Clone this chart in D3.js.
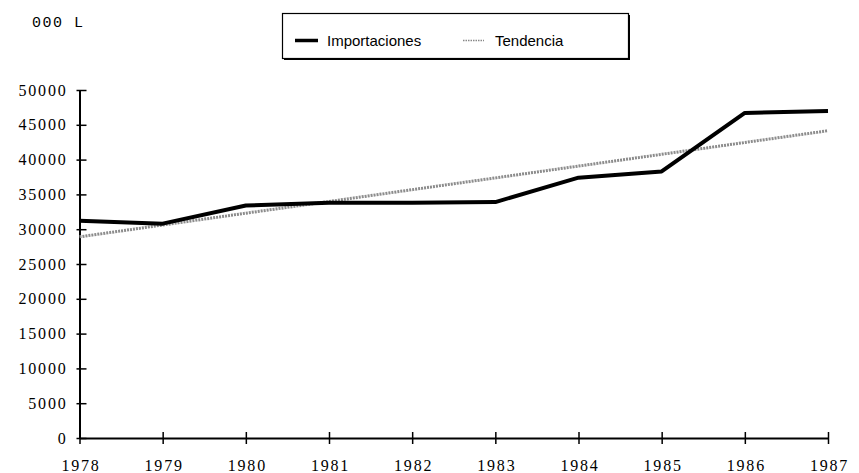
<!DOCTYPE html>
<html>
<head>
<meta charset="utf-8">
<script src="https://cdn.jsdelivr.net/npm/d3@7"></script>
<style>
  html, body { margin: 0; padding: 0; background: #fff; }
  svg { display: block; }
</style>
</head>
<body>
<svg id="chart" width="859" height="473"></svg>
<script>
const years = [1978, 1979, 1980, 1981, 1982, 1983, 1984, 1985, 1986, 1987];
const importaciones = [31200, 30800, 33400, 33800, 33800, 33900, 37400, 38300, 46700, 47000];
const tendencia = [28900, 30600, 32300, 33980, 35680, 37370, 39070, 40760, 42460, 44150];
const yTicks = [0, 5000, 10000, 15000, 20000, 25000, 30000, 35000, 40000, 45000, 50000];
const unitLabel = "000 L";
const seriesNames = ["Importaciones", "Tendencia"];

const SERIF = '"Liberation Serif"';
const SANS = '"Liberation Sans"';
const MONO = '"Liberation Mono"';

const svg = d3.select("#chart");
const x = d3.scaleLinear().domain([1978, 1987]).range([79.5, 828]);
const y = d3.scaleLinear().domain([0, 50000]).range([438, 90]);

// Unit label
svg.append("text")
  .attr("x", 32).attr("y", 27)
  .style("font-family", MONO)
  .style("font-size", "15px").style("letter-spacing", "1.5px")
  .attr("fill", "#000")
  .text(unitLabel);

// Legend
const lg = svg.append("g");
lg.append("rect").attr("x", 284).attr("y", 15).attr("width", 346).attr("height", 45).attr("fill", "#000");
lg.append("rect").attr("x", 282.5).attr("y", 13.5).attr("width", 346).attr("height", 45)
  .attr("fill", "#fff").attr("stroke", "#000").attr("stroke-width", 1.2);
lg.append("line").attr("x1", 295).attr("x2", 318).attr("y1", 40.5).attr("y2", 40.5)
  .attr("stroke", "#000").attr("stroke-width", 3.5);
lg.append("text").attr("x", 327).attr("y", 45.5)
  .style("font-family", SANS).style("font-size", "15px")
  .text(seriesNames[0]);
lg.append("line").attr("x1", 463).attr("x2", 484).attr("y1", 40.5).attr("y2", 40.5)
  .attr("stroke", "#888").attr("stroke-width", 1.5).attr("stroke-dasharray", "1.5,1");
lg.append("text").attr("x", 495).attr("y", 45.5)
  .style("font-family", SANS).style("font-size", "15px")
  .text(seriesNames[1]);

// Y axis
const yAxis = d3.axisLeft(y).tickValues(yTicks).tickSize(0).tickPadding(0).tickFormat(d3.format("d"));
const gy = svg.append("g").attr("transform", `translate(${x(1978)},0)`).call(yAxis);
gy.select(".domain").attr("stroke", "#000").attr("stroke-width", 2);
gy.selectAll(".tick line").remove();
gy.selectAll(".tick").append("line")
  .attr("x1", -3).attr("x2", 7).attr("y1", 0).attr("y2", 0)
  .attr("stroke", "#000").attr("stroke-width", 1.5);
gy.selectAll(".tick text")
  .attr("x", -12)
  .style("font-family", SERIF)
  .style("font-size", "16px").style("letter-spacing", "1.8px")
  .attr("fill", "#000");

// X axis
const xAxis = d3.axisBottom(x).tickValues(years).tickSize(0).tickPadding(0).tickFormat(d3.format("d"));
const gx = svg.append("g").attr("transform", `translate(0,${y(0)})`).call(xAxis);
gx.select(".domain").attr("stroke", "#000").attr("stroke-width", 2);
gx.selectAll(".tick line").remove();
gx.selectAll(".tick").append("line")
  .attr("x1", 0).attr("x2", 0).attr("y1", -6).attr("y2", 6)
  .attr("stroke", "#000").attr("stroke-width", 1.5);
gx.selectAll(".tick text")
  .attr("y", 22).attr("dx", "1px")
  .style("font-family", SERIF)
  .style("font-size", "16px").style("letter-spacing", "1.8px")
  .attr("fill", "#000");

// Lines
const line = d3.line().x((d, i) => x(years[i])).y(d => y(d));
svg.append("path").datum(tendencia).attr("d", line)
  .attr("fill", "none").attr("stroke", "#8c8c8c").attr("stroke-width", 3)
  .attr("stroke-dasharray", "2,1");
svg.append("path").datum(importaciones).attr("d", line)
  .attr("fill", "none").attr("stroke", "#000").attr("stroke-width", 4)
  .attr("stroke-linejoin", "round");
</script>
</body>
</html>
